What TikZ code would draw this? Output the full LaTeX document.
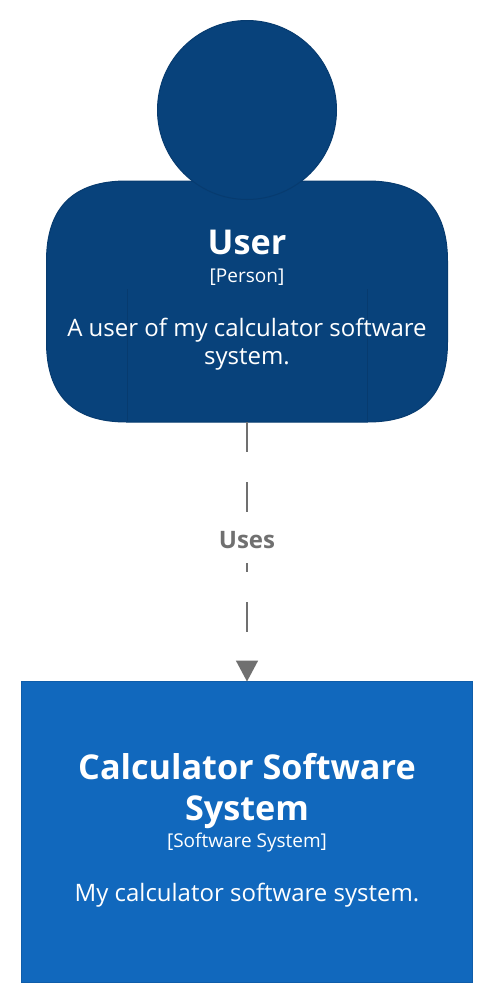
\documentclass[tikz,border=0pt]{standalone}
\usepackage{fontspec}
\setmainfont{Open Sans}
\usetikzlibrary{arrows.meta}
\definecolor{persona}{HTML}{08427B}
\definecolor{personb}{HTML}{073B6F}
\definecolor{sysa}{HTML}{1168BD}
\definecolor{sysb}{HTML}{0F5DAA}
\definecolor{rel}{HTML}{707070}
\tikzset{
 x=1pt,y=-1pt,
 personshape/.style={fill=persona,draw=personb,line width=1pt,inner sep=0pt,outer sep=0pt},
 sysshape/.style={rectangle,fill=sysa,draw=sysb,line width=1pt,inner sep=0pt,outer sep=0pt,minimum width=451pt,minimum height=301pt},
 txt/.style={text=white,align=center,inner sep=0pt,anchor=center},
 rellink/.style={draw=rel,line width=1.6pt,dash pattern=on 30pt off 30pt,-{Triangle[length=21pt,width=22pt]}},
}
\begin{document}
\begin{tikzpicture}
\useasboundingbox (0,0) rectangle (497,1001);
\fill[white] (0,0) rectangle (497,1001);
\node[inner sep=0pt,outer sep=0pt,minimum width=401pt,minimum height=241pt] (body) at (247,301.5) {};
\path[personshape] (126.5,181) -- (367.5,181)
  .. controls (420.8,181) and (447.5,207.7) .. (447.5,261) -- (447.5,342)
  .. controls (447.5,395.3) and (420.8,422) .. (367.5,422) -- (126.5,422)
  .. controls (73.2,422) and (46.5,395.3) .. (46.5,342) -- (46.5,261)
  .. controls (46.5,207.7) and (73.2,181) .. (126.5,181) -- cycle;
\draw[personb,line width=1pt] (127,289) -- (127,421);
\draw[personb,line width=1pt] (367,289) -- (367,421);
\node[personshape,circle,minimum size=179pt] (head) at (247,110) {};
\node[sysshape] (sys) at (247,832) {};
\draw[rellink] (body.south) -- (sys.north)
  node[pos=0.455,fill=white,inner sep=0pt,minimum width=56pt,minimum height=46pt,text=rel,font=\fontsize{24}{28}\selectfont\bfseries] (uses) {Uses};
\node[txt,font=\fontsize{34.2}{40}\selectfont\bfseries] (t1) at (247,242) {User};
\node[txt,font=\fontsize{19}{23}\selectfont] (t2) at (247,277) {[Person]};
\node[txt,font=\fontsize{24}{28.5}\selectfont] (t3) at (247,344) {A user of my calculator software\\system.};
\node[txt,font=\fontsize{34.2}{41}\selectfont\bfseries] (t4) at (247,791.5) {Calculator Software\\System};
\node[txt,font=\fontsize{19}{23}\selectfont] (t5) at (247,843) {[Software System]};
\node[txt,font=\fontsize{24}{28.5}\selectfont] (t6) at (247,895) {My calculator software system.};
\end{tikzpicture}
\end{document}
